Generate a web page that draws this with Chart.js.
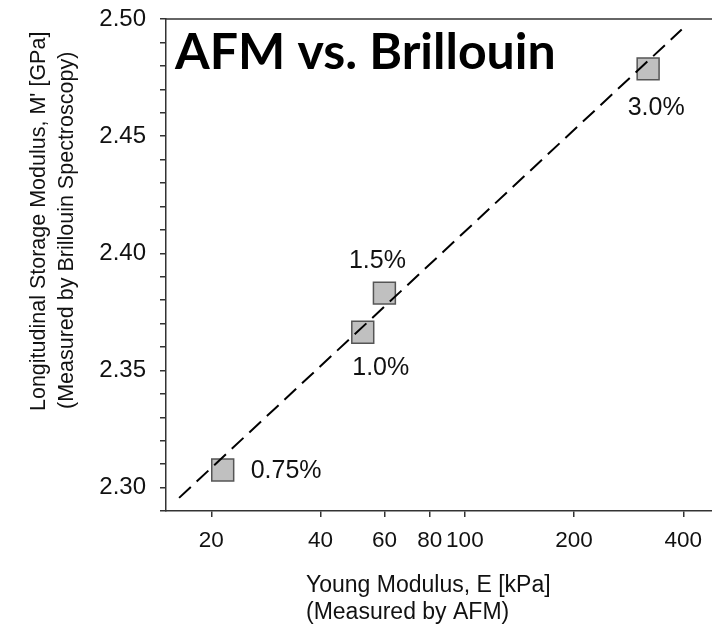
<!DOCTYPE html>
<html>
<head>
<meta charset="utf-8">
<script src="https://cdn.jsdelivr.net/npm/chart.js@4.4.1/dist/chart.umd.min.js"></script>
<style>
  html, body { margin: 0; padding: 0; background: #ffffff; }
  canvas { display: block; }
</style>
</head>
<body>
<canvas id="chart" width="712" height="628"></canvas>
<script>
// Hydrogel concentrations and their measured moduli
const concentrations = ['0.75%', '1.0%', '1.5%', '3.0%'];
const youngModulusKPa = [21.5, 52.3, 60.0, 320];
const storageModulusGPa = [2.3075, 2.3663, 2.383, 2.4787];

// End points of the dashed trend line
const trendKPa = [16.3, 396];
const trendGPa = [2.2956, 2.4955];

// Axis ticks
const xTickValues = [20, 40, 60, 80, 100, 200, 400];
const yTickLabels = ['2.30', '2.35', '2.40', '2.45', '2.50'];

const TEXT_FONT = '"Liberation Sans", Arial, sans-serif';
const AXIS_COLOR = '#333333';

// Offsets of each concentration label from its marker [dx, dy, align]
const labelOffsets = [
  [28, 1.5, 'left'],
  [18, 36, 'center'],
  [-7, -32, 'center'],
  [8, 39, 'center']
];

// keep the plot frame fixed regardless of tick label overhang
function noScalePadding(scale) {
  scale.paddingTop = 0;
  scale.paddingBottom = 0;
  scale.paddingLeft = 0;
  scale.paddingRight = 0;
}

const annotations = {
  id: 'annotations',
  afterDatasetsDraw(chart) {
    const ctx = chart.ctx;
    const area = chart.chartArea;
    const meta = chart.getDatasetMeta(1);
    ctx.save();
    // top frame line
    ctx.strokeStyle = AXIS_COLOR;
    ctx.lineWidth = 1.5;
    ctx.beginPath();
    ctx.moveTo(area.left, area.top);
    ctx.lineTo(area.right, area.top);
    ctx.stroke();

    // concentration labels
    ctx.fillStyle = '#111111';
    ctx.font = '25px ' + TEXT_FONT;
    ctx.textBaseline = 'middle';
    meta.data.forEach((pt, i) => {
      const [dx, dy, align] = labelOffsets[i];
      ctx.textAlign = align;
      ctx.fillText(concentrations[i], pt.x + dx, pt.y + dy);
    });

    // heading
    ctx.font = 'bold 50px Lato, sans-serif';
    ctx.textAlign = 'left';
    ctx.textBaseline = 'alphabetic';
    ctx.fillStyle = '#000000';
    ctx.fillText('AFM vs. Brillouin', 175, 69);

    // x axis title
    ctx.font = '23px ' + TEXT_FONT;
    ctx.fillStyle = '#111111';
    ctx.fillText('Young Modulus, E [kPa]', 306, 592);
    ctx.fillText('(Measured by AFM)', 306, 619);

    // y axis title
    ctx.save();
    ctx.translate(45, 411);
    ctx.rotate(-Math.PI / 2);
    ctx.font = '21.5px ' + TEXT_FONT;
    ctx.fillText("Longitudinal Storage Modulus, M' [GPa]", 0, 0);
    ctx.fillText('(Measured by Brillouin Spectroscopy)', 2, 28);
    ctx.restore();
    ctx.restore();
  }
};

new Chart(document.getElementById('chart'), {
  data: {
    datasets: [
      {
        type: 'line',
        data: trendKPa.map((x, i) => ({ x, y: trendGPa[i] })),
        borderColor: '#000000',
        borderWidth: 2,
        borderDash: [16, 8],
        pointRadius: 0,
        fill: false
      },
      {
        type: 'scatter',
        data: youngModulusKPa.map((x, i) => ({ x, y: storageModulusGPa[i] })),
        pointStyle: 'rect',
        pointRadius: 15.5,
        pointHoverRadius: 15.5,
        backgroundColor: '#c0c0c0',
        borderColor: '#555555',
        borderWidth: 1.5
      }
    ]
  },
  options: {
    responsive: false,
    animation: false,
    devicePixelRatio: 1,
    layout: { autoPadding: false, padding: { top: 19, right: 0, left: 0, bottom: 0 } },
    plugins: { legend: { display: false }, tooltip: { enabled: false } },
    scales: {
      x: {
        type: 'logarithmic',
        min: 15,
        max: 480,
        afterBuildTicks(scale) {
          scale.ticks = xTickValues.map(v => ({ value: v }));
        },
        afterFit(scale) { scale.height = 117; noScalePadding(scale); },
        ticks: {
          autoSkip: false,
          maxRotation: 0,
          padding: 10,
          color: '#111111',
          font: { family: TEXT_FONT, size: 22.5 },
          callback: v => String(v)
        },
        grid: { drawOnChartArea: false, drawTicks: true, tickLength: 6, tickColor: AXIS_COLOR, lineWidth: 1.5 },
        border: { display: true, color: AXIS_COLOR, width: 1.5 }
      },
      y: {
        type: 'linear',
        min: 2.29,
        max: 2.5,
        afterFit(scale) { scale.width = 166; noScalePadding(scale); },
        ticks: {
          stepSize: 0.01,
          autoSkip: false,
          padding: 14,
          color: '#111111',
          font: { family: TEXT_FONT, size: 24 },
          callback: v => {
            const s = v.toFixed(2);
            return yTickLabels.includes(s) ? s : '';
          }
        },
        grid: { drawOnChartArea: false, drawTicks: true, tickLength: 6, tickColor: AXIS_COLOR, lineWidth: 1.5 },
        border: { display: true, color: AXIS_COLOR, width: 1.5 }
      }
    }
  },
  plugins: [annotations]
});
</script>
</body>
</html>
